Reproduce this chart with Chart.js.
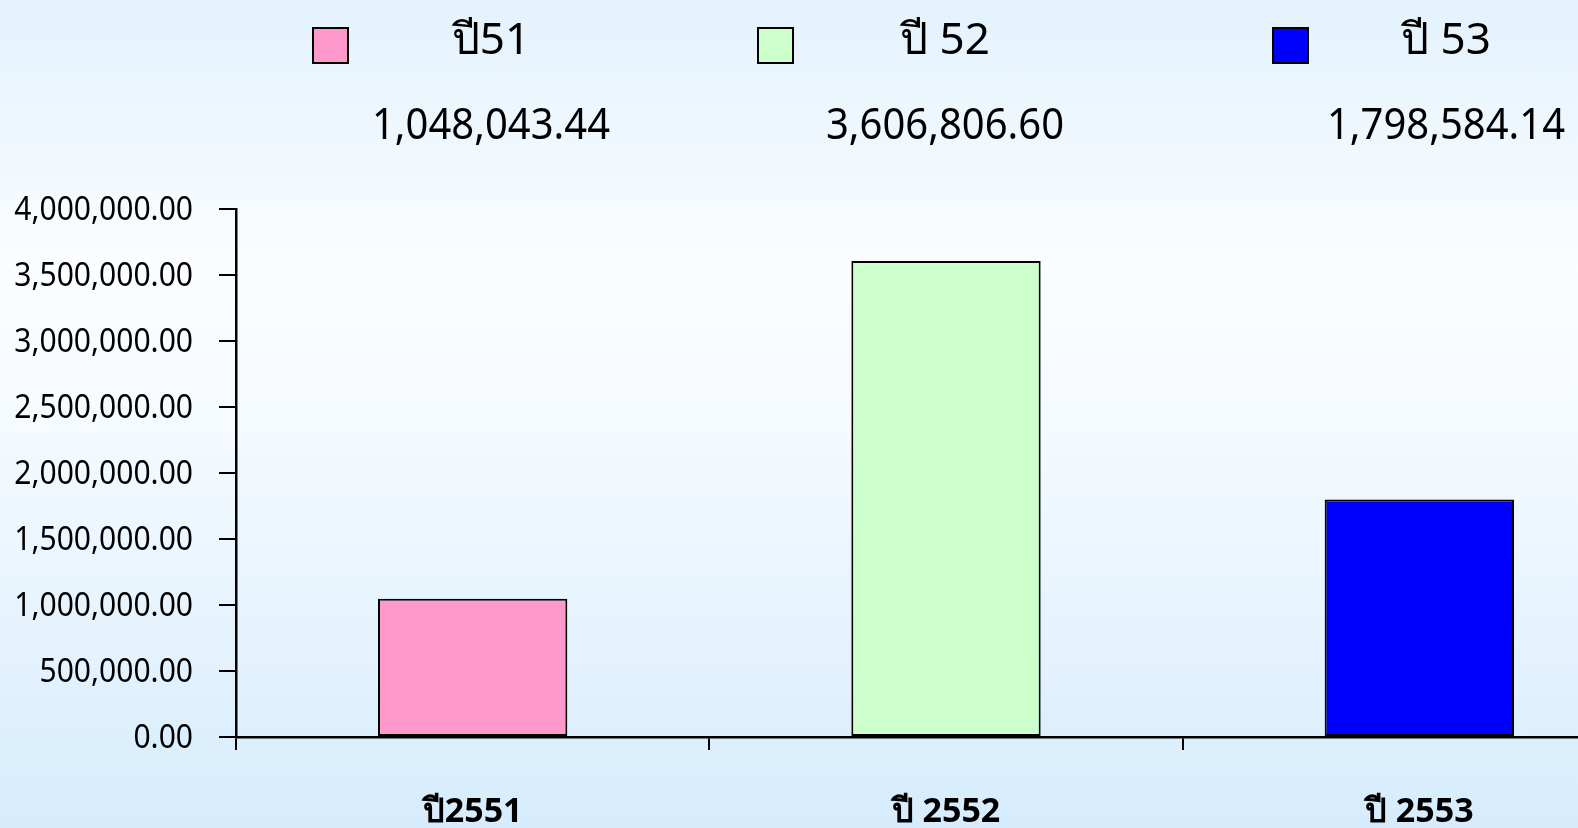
<!DOCTYPE html>
<html>
<head>
<meta charset="utf-8">
<script src="https://cdn.jsdelivr.net/npm/chart.js@4"></script>
<style>
  html, body { margin: 0; padding: 0; }
  body {
    width: 1578px; height: 828px; overflow: hidden; position: relative;
    background: linear-gradient(to bottom, #e3f2fd 0%, #fbfdff 32%, #f6fbff 50%, #d6ecfc 100%);
    font-family: "Noto Sans", sans-serif;
  }
  #wrap { position: absolute; left: 0; top: 0; width: 1656px; height: 828px; }
  .swatch { position: absolute; width: 33px; height: 33px; border: 2px solid #000; }
  .lbl { position: absolute; white-space: nowrap; color: #000; }
  .name { font-size: 44px; transform: translate(-50%, -50%); }
  .val { font-size: 43px; transform: translate(-50%, -50%) scaleX(0.93); }
</style>
</head>
<body>
<div id="wrap"><canvas id="chart" width="1656" height="828"></canvas></div>
<script>
const categories = ["ปี2551", "ปี 2552", "ปี 2553"];
const seriesNames = ["ปี51", "ปี 52", "ปี 53"];
const amounts = [1048043.44, 3606806.60, 1798584.14];
const barColors = ["#ff99cc", "#ccffcc", "#0000ff"];

// where the legend swatches and captions sit across the top
const legendLayout = [
  { box: 312, text: 491 },
  { box: 757, text: 945 },
  { box: 1272, text: 1446 },
];

const fmt = v => v.toLocaleString("en-US", { minimumFractionDigits: 2, maximumFractionDigits: 2 });

// build the legend row and the totals row underneath
seriesNames.forEach((name, i) => {
  const sw = document.createElement("div");
  sw.className = "swatch";
  sw.style.left = legendLayout[i].box + "px";
  sw.style.top = "27px";
  sw.style.background = barColors[i];
  document.body.appendChild(sw);

  const t = document.createElement("div");
  t.className = "lbl name";
  t.textContent = name;
  t.style.left = legendLayout[i].text + "px";
  t.style.top = "38px";
  document.body.appendChild(t);

  const v = document.createElement("div");
  v.className = "lbl val";
  v.textContent = fmt(amounts[i]);
  v.style.left = legendLayout[i].text + "px";
  v.style.top = "122px";
  document.body.appendChild(v);
});

const fontFamily = '"Noto Sans", sans-serif';
const yTickSize = 33;
const yTickStretch = 0.91;

// y labels are drawn narrower than the font's natural width
const narrowYLabels = {
  id: "narrowYLabels",
  afterDraw(chart) {
    const y = chart.scales.y;
    const o = y.options;
    const x = y.right - o.grid.tickLength - o.ticks.padding;
    const ctx = chart.ctx;
    ctx.save();
    ctx.font = `${yTickSize}px ${fontFamily}`;
    ctx.fillStyle = "#000";
    ctx.textAlign = "right";
    ctx.textBaseline = "middle";
    y.ticks.forEach((t, i) => {
      ctx.save();
      ctx.translate(x, y.getPixelForTick(i) + 2);
      ctx.scale(yTickStretch, 1);
      ctx.fillText(fmt(t.value), 0, 0);
      ctx.restore();
    });
    ctx.restore();
  },
};

new Chart(document.getElementById("chart").getContext("2d"), {
  type: "bar",
  data: {
    labels: categories,
    datasets: [{
      data: amounts,
      backgroundColor: barColors,
      borderColor: "#000",
      borderWidth: 2,
      borderSkipped: false,
      categoryPercentage: 1,
      barPercentage: 0.4,
    }],
  },
  options: {
    responsive: false,
    animation: false,
    layout: { padding: { top: 209, left: 0, right: 0, bottom: 0 } },
    plugins: { legend: { display: false }, tooltip: { enabled: false } },
    scales: {
      x: {
        afterFit: s => { s.height = 91; },
        grid: { offset: true, drawOnChartArea: false, tickLength: 13, color: "#000", lineWidth: 2 },
        border: { color: "#000", width: 2.5 },
        ticks: { color: "#000", padding: 42, font: { family: fontFamily, size: 34, weight: "bold" } },
      },
      y: {
        min: 0,
        max: 4000000,
        afterFit: s => { s.width = 236; },
        grid: { drawOnChartArea: false, tickLength: 17, color: "#000", lineWidth: 2 },
        border: { color: "#000", width: 2.5 },
        ticks: {
          stepSize: 500000,
          color: "transparent",
          padding: 26,
          font: { family: fontFamily, size: yTickSize },
          callback: v => fmt(v),
        },
      },
    },
  },
  plugins: [narrowYLabels],
});
</script>
</body>
</html>
